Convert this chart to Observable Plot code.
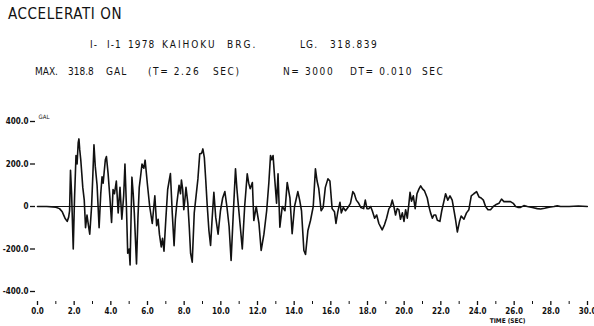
<!DOCTYPE html>
<html><head><meta charset="utf-8">
<script src="https://cdn.jsdelivr.net/npm/d3@7"></script>
<script src="https://cdn.jsdelivr.net/npm/@observablehq/plot@0.6"></script>
<style>
body{margin:0;background:#fff;width:594px;height:326px;overflow:hidden;position:relative;font-family:"DejaVu Sans Condensed","DejaVu Sans",sans-serif;color:#111}
.t{position:absolute;white-space:pre;line-height:1;font-size:10px;letter-spacing:1.1px}
#chart{position:absolute;left:0;top:0}
</style></head><body>
<div id="chart"></div>
<div class="t" style="left:8px;top:7px;font-size:15px;letter-spacing:0.6px">ACCELERATI ON</div>
<div class="t" style="left:90px;top:40px">I-</div>
<div class="t" style="left:107px;top:40px">I-1</div>
<div class="t" style="left:128px;top:40px">1978</div>
<div class="t" style="left:162px;top:40px;letter-spacing:2px">KAIHOKU</div>
<div class="t" style="left:227px;top:40px;letter-spacing:2px">BRG.</div>
<div class="t" style="left:300px;top:40px">LG.</div>
<div class="t" style="left:330px;top:40px;letter-spacing:1.6px">318.839</div>
<div class="t" style="left:35px;top:67px;letter-spacing:0px">MAX.</div>
<div class="t" style="left:68px;top:67px;letter-spacing:0px">318.8</div>
<div class="t" style="left:106px;top:67px">GAL</div>
<div class="t" style="left:148px;top:67px;letter-spacing:1.6px">(T= 2.26</div>
<div class="t" style="left:213px;top:67px;letter-spacing:1.6px">SEC)</div>
<div class="t" style="left:283px;top:67px;letter-spacing:1.6px">N= 3000</div>
<div class="t" style="left:350px;top:67px;letter-spacing:1.6px">DT= 0.010  SEC</div>
<script>
const times = [0,0.5,1.0,1.2,1.35,1.5,1.62,1.7,1.75,1.8,1.86,1.95,2.02,2.1,2.16,2.22,2.26,2.3,2.36,2.42,2.47,2.55,2.62,2.7,2.78,2.85,2.95,3.02,3.08,3.15,3.25,3.36,3.45,3.52,3.58,3.7,3.76,3.85,3.95,4.04,4.12,4.2,4.3,4.4,4.5,4.6,4.7,4.77,4.85,4.92,5.0,5.05,5.15,5.22,5.28,5.34,5.40,5.48,5.55,5.62,5.7,5.8,5.87,6.0,6.12,6.26,6.4,6.5,6.58,6.65,6.75,6.82,6.9,7.0,7.1,7.18,7.25,7.35,7.45,7.52,7.6,7.72,7.8,7.85,7.92,7.98,8.05,8.1,8.2,8.28,8.35,8.44,8.55,8.65,8.75,8.85,8.95,9.02,9.1,9.18,9.25,9.35,9.44,9.52,9.62,9.72,9.85,9.98,10.1,10.22,10.33,10.45,10.56,10.67,10.8,10.88,10.93,11.08,11.17,11.3,11.44,11.52,11.6,11.72,11.8,11.93,12.08,12.2,12.35,12.5,12.62,12.71,12.78,12.85,12.93,13.04,13.12,13.22,13.35,13.5,13.62,13.77,13.89,14.02,14.2,14.3,14.4,14.53,14.62,14.75,14.89,15.04,15.16,15.25,15.34,15.47,15.58,15.7,15.84,15.95,16.07,16.2,16.28,16.38,16.5,16.57,16.68,16.8,16.93,17.07,17.2,17.28,17.39,17.52,17.64,17.79,17.88,17.97,18.08,18.17,18.26,18.39,18.5,18.62,18.8,18.93,19.04,19.17,19.26,19.35,19.44,19.53,19.62,19.71,19.8,19.9,19.99,20.08,20.17,20.26,20.32,20.4,20.5,20.6,20.7,20.81,20.9,21.0,21.1,21.17,21.26,21.35,21.44,21.54,21.62,21.72,21.81,21.95,22.05,22.13,22.26,22.38,22.5,22.62,22.71,22.8,22.9,23.02,23.11,23.26,23.4,23.53,23.66,23.8,23.95,24.08,24.2,24.32,24.44,24.57,24.71,24.86,24.99,25.17,25.31,25.44,25.62,25.8,25.95,26.08,26.2,26.35,26.53,26.72,26.99,27.26,27.44,27.66,27.9,28.17,28.35,28.53,29.0,29.5,29.99];
const accel = [0,0,-3,-10,-25,-55,-70,-50,-20,170,60,-200,40,240,200,300,318,270,220,150,90,30,-100,-40,-90,-130,0,150,290,190,100,-100,60,140,110,220,235,156,40,-75,80,60,120,-30,90,-60,50,200,0,-220,-200,-275,138,60,-30,-150,-270,-50,90,140,200,180,218,100,0,-80,50,-90,-60,-130,-190,-150,-210,-60,80,120,155,-30,-185,-60,15,100,60,125,80,-15,40,90,15,-100,-220,-262,-30,50,130,248,250,271,230,120,15,-113,-183,-66,67,-50,-130,-20,40,70,0,-93,-254,-50,177,80,30,-113,-200,0,154,110,84,113,-66,0,-80,-207,-130,-20,113,240,220,240,140,15,154,-97,0,-20,113,40,-128,0,70,30,-20,-207,-225,-113,-66,0,177,120,85,-20,-5,90,130,120,-10,-25,-80,-25,20,-30,-5,-20,-5,15,70,60,30,15,-5,-10,30,-10,-10,0,-20,-55,-40,-80,-110,-85,-55,-10,0,30,0,-40,-10,-15,-60,-30,-70,-15,-55,15,67,25,50,-10,60,83,97,83,75,60,40,0,-30,-55,-40,-40,-65,-70,-20,10,60,30,50,30,-15,-60,-120,-70,-45,-60,-30,-15,50,60,70,45,40,30,0,-15,-15,0,8,15,35,23,23,23,15,0,-4,-4,4,0,-5,-10,-12,-8,-3,0,3,0,0,2,0];
const yTicks = [-400,-200,0,200,400];
const yTickLabels = ["-400.0","-200.0","0","200.0","400.0"];
const xMajor = [0,2,4,6,8,10,12,14,16,18,20,22,24,26,28,30];
const xMajorLabels = ["0.0","2.0","4.0","6.0","8.0","10.0","12.0","14.0","16.0","18.0","20.0","22.0","24.0","26.0","28.0","30.0"];
const xMinor = [1,3,5,7,9,11,13,15,17,19,21,23,25,27,29];
const yUnit = "GAL";
const xTitle = "TIME (SEC)";

const data = times.map((t,i)=>({t, v: accel[i]}));
const yLab = new Map(yTicks.map((d,i)=>[d,yTickLabels[i]]));
const xLab = new Map(xMajor.map((d,i)=>[d,xMajorLabels[i]]));
const font = '"DejaVu Sans Condensed","DejaVu Sans",sans-serif';

const chart = Plot.plot({
  width: 594, height: 326,
  marginLeft: 37, marginRight: 7, marginTop: 121, marginBottom: 35,
  x: {domain: [0, 30]},
  y: {domain: [-400, 400]},
  style: {fontFamily: font, fontSize: "8px", color: "#111", background: "#fff"},
  marks: [
    Plot.axisY({ticks: yTicks, tickFormat: d => yLab.get(d), tickSize: 5, tickPadding: 2, dx: -2, line: true, label: null, strokeWidth: 1.3, fontWeight: "bold"}),
    Plot.axisX({ticks: xMajor, tickFormat: d => xLab.get(d), tickSize: 4, tickPadding: 3, dy: 10, line: true, label: null, strokeWidth: 1.3, fontWeight: "bold"}),
    Plot.axisX({ticks: xMinor, text: null, tickSize: 3, dy: 10, label: null}),
    Plot.ruleY([0], {stroke: "#111", strokeWidth: 1.2}),
    Plot.line(data, {x: "t", y: "v", stroke: "#111", strokeWidth: 1.6}),
    Plot.text([yUnit], {frameAnchor: "top-left", dx: 1, dy: -7, fontSize: 6, textAnchor: "start"}),
    Plot.text([xTitle], {frameAnchor: "bottom-right", dx: -62, dy: 31, fontSize: 6.5, fontWeight: "bold"})
  ]
});
document.getElementById("chart").appendChild(chart);
</script>
</body></html>
